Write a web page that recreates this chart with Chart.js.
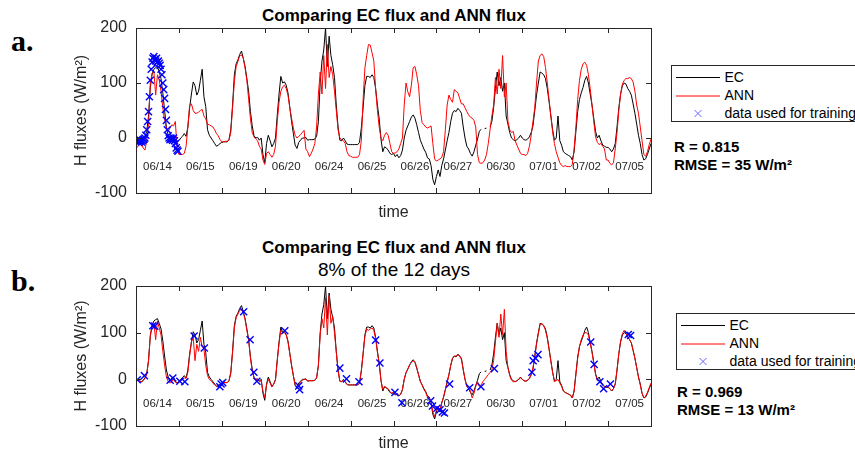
<!DOCTYPE html>
<html>
<head>
<meta charset="utf-8">
<title>Comparing EC flux and ANN flux</title>
<script src="https://cdn.jsdelivr.net/npm/chart.js@4.4.1/dist/chart.umd.min.js"></script>
<style>
  html, body { margin: 0; padding: 0; background: #fff; }
  #figure { position: relative; width: 855px; height: 454px; overflow: hidden;
    font-family: 'Liberation Sans', Arial, Helvetica, sans-serif; color: #000; }
  canvas { position: absolute; left: 0; }
  .tag { position: absolute; left: 11px; font-family: 'Liberation Serif', 'Times New Roman', serif;
    font-weight: bold; font-size: 30px; line-height: 30px; }
  .title { position: absolute; left: 394px; transform: translateX(-50%); white-space: nowrap; line-height: 1; }
  .title.main { font-weight: bold; font-size: 17px; }
  .title.sub { font-size: 19px; }
  .stats { position: absolute; font-weight: bold; font-size: 15px; line-height: 18.5px; white-space: nowrap; }
  .legend { position: absolute; width: 230px; height: 57px; box-sizing: border-box;
    border: 1px solid #262626; background: #fff; }
  .legend svg { position: absolute; left: 0; top: 0; }
  .legend span { position: absolute; left: 52.5px; font-size: 14px; line-height: 14px; white-space: nowrap; }
</style>
</head>
<body>
<div id="figure">
  <div class="tag" style="top:26px">a.</div>
  <div class="title main" style="top:7px">Comparing EC flux and ANN flux</div>
  <canvas id="chartA" width="665" height="225" style="top:0"></canvas>
  <div class="legend" id="legendA" style="left:671px;top:65px"></div>
  <div class="stats" style="left:674px;top:137.5px">R = 0.815<br>RMSE = 35 W/m²</div>

  <div class="tag" style="top:266px">b.</div>
  <div class="title main" style="top:239px">Comparing EC flux and ANN flux</div>
  <div class="title sub" style="top:260px">8% of the 12 days</div>
  <canvas id="chartB" width="665" height="214" style="top:240px"></canvas>
  <div class="legend" id="legendB" style="left:676px;top:313px"></div>
  <div class="stats" style="left:677px;top:382.5px">R = 0.969<br>RMSE = 13 W/m²</div>
</div>

<script>
// x axis is hours since start of the first shown day, 24 per day, 12 days glued together
const dayLabels = ['06/14', '06/15', '06/19', '06/20', '06/24', '06/25', '06/26', '06/27', '06/30', '07/01', '07/02', '07/05'];
const hoursPerDay = 24;
const yTicks = [-100, 0, 100, 200];
const dayLabelFlux = -53; // level the date texts sit at inside the axes

// EC measured H flux (W/m2), hourly, one line per day (+ last point)
const ecFlux = [
  0, -2, -3, -5, -2, 3, 12, 40, 92, 116, 125, 128, 130, 120, 108, 82, 50, 20, 5, 0, -2, 5, -5, -8,
  -5, 0, 3, 8, 3, 20, 55, 80, 102, 95, 78, 85, 105, 125, 75, 57, 15, 5, 0, -5, -10, -15, -13, -10,
  -8, -7, -7, -7, -3, 15, 60, 115, 135, 142, 152, 158, 145, 130, 108, 84, 48, 22, 4, 0, 1, -4, 0, -30,
  -45, -10, 5, -5, -16, -10, 0, 42, 80, 112, 100, 102, 96, 82, 56, 30, 8, -13, -19, -8, -4, 0, 0, 1,
  -4, -3, -3, -3, -2, 3, 30, 100, 140, 160, 200, 130, 185, 150, 133, 110, 60, 20, -4, -5, 0, -5, -11, -12,
  -12, -12, -12, -12, -12, -8, 18, 55, 95, 112, 112, 110, 115, 110, 90, 60, 35, -2, -25, -16, -18, -22, -28, -30,
  -28, -34, -30, -36, -32, -22, 0, 14, 22, 30, 38, 42, 36, 24, 10, -4, -12, -20, -26, -36, -38, -50, -75, -85,
  -70, -58, -70, -50, -38, -22, -5, 10, 30, 45, 50, 48, 54, 50, 45, 20, 0, -15, -20, -28, -33, -25, -13, -2,
  12, 16, null, 17, 18, null, 20, 30, 55, 90, 120, 95, 110, 85, 100, 40, 25, 10, 0, -3, -5, -3, 0, 5,
  0, -3, -4, -2, 2, 10, 22, 50, 78, 100, 120, 118, 115, 108, 90, 66, 40, 15, -4, 0, 40, -5, -13, -25,
  -28, -30, -32, -34, -40, -25, 12, 48, 70, 82, 92, 105, 112, 100, 80, 60, 36, 12, 0, 5, -5, -13, -15, -17,
  -17, -20, -25, -20, -10, 20, 55, 80, 95, 100, 98, 90, 85, 78, 62, 45, 25, 5, -10, -30, -40, -38, -30, -20,
  -10,
];

// ANN estimate, panel a (trained on 06/14 only)
const annFluxA = [
  -20, -15, -13, -8, -18, -22, -5, 25, 100, 118, 121, 78, 115, 105, 85, 55, 32, 18, 12, 18, 24, 22, 30, -20,
  -30, -30, -30, -28, -15, 20, 60, 62, 50, 45, 45, 47, 50, 52, 40, 35, 25, 24, 22, 20, 15, 8, 4, -3,
  -7, -7, -6, -6, -4, 10, 55, 102, 130, 139, 150, 151, 145, 127, 105, 70, 35, 10, 2, -2, -5, -15, -20, -40,
  -48, -28, -25, -30, -35, -30, -15, 30, 65, 85, 93, 96, 90, 78, 55, 36, 18, 5, 0, 3, 6, 10, 14, -20,
  -25, -34, -28, -20, -10, 20, 80, 120, 80, 150, 90, 170, 110, 130, 115, 85, 50, 15, 0, -3, -5, -10, -25, -32,
  -33, -35, -35, -35, -35, -30, -5, 70, 127, 150, 170, 169, 155, 140, 90, 50, 20, 0, -5, 5, 10, 5, -10, -25,
  -28, -27, -25, -20, -10, 0, 60, 100, 84, 75, 96, 128, 130, 115, 95, 50, 28, 24, 20, 18, 20, 22, -10, -38,
  -42, -40, -38, -35, -25, 15, 60, 78, 70, 65, 88, 85, 82, 72, 62, 62, 55, 48, 42, 38, 36, 32, 20, -30,
  -45, -46, -45, -40, -30, -10, 15, 40, 60, 110, 80, 125, 90, 150, 75, 100, 30, 15, 10, 12, -5, -13, -20, -28,
  -30, -30, -32, -28, -15, 5, 30, 55, 100, 140, 150, 153, 148, 128, 100, 70, 40, 10, -10, -25, -35, -45, -50, -52,
  -50, -52, -52, -52, -48, -20, 20, 70, 105, 125, 135, 138, 132, 115, 90, 60, 30, 2, -8, -12, -10, -15, -20, -40,
  -40, -46, -49, -45, -20, 10, 50, 80, 98, 105, 108, 108, 110, 108, 102, 85, 60, 45, 20, -5, -30, -33, -25, -12,
  -2,
];

// ANN estimate, panel b (trained on 8% of the 12 days)
const annFluxB = [
  0, -3, -4, -6, -3, 2, 10, 40, 95, 115, 120, 85, 125, 110, 95, 60, 30, 5, -5, -8, -5, 0, -6, -8,
  -6, -3, 0, 3, 2, 15, 50, 80, 90, 40, 75, 60, 90, 70, 65, 30, 8, 0, -3, -8, -12, -15, -14, -10,
  -8, -7, -7, -7, -3, 12, 58, 110, 132, 140, 148, 150, 142, 128, 105, 84, 45, 18, 3, 0, 0, -5, -3, -25,
  -40, -12, 0, -8, -16, -10, -2, 40, 78, 105, 100, 100, 95, 80, 55, 30, 8, -12, -20, -12, -6, -2, 0, 0,
  -3, -3, -3, -3, -2, 3, 30, 95, 130, 110, 175, 95, 180, 120, 135, 100, 58, 18, -4, -5, -2, -6, -11, -12,
  -12, -12, -12, -12, -12, -8, 18, 55, 92, 108, 105, 108, 110, 105, 88, 58, 33, -2, -22, -15, -18, -20, -26, -30,
  -28, -33, -30, -35, -32, -22, 0, 15, 22, 32, 36, 40, 38, 25, 10, -5, -12, -22, -28, -38, -40, -48, -70, -80,
  -65, -60, -65, -50, -38, -22, -8, 10, 30, 45, 50, 50, 52, 50, 42, 22, 0, -15, -20, -25, -40, -30, -15, -5,
  -15, -12, -5, 0, 5, 10, 15, 20, 40, 80, 120, 90, 140, 95, 150, 60, 25, 8, -2, -5, -5, -3, 0, 3,
  0, -3, -4, -2, 2, 10, 25, 48, 75, 98, 118, 120, 115, 105, 88, 64, 38, 15, -5, -3, 0, -8, -15, -25,
  -28, -30, -32, -34, -40, -25, 10, 45, 70, 85, 95, 100, 100, 95, 78, 58, 35, 10, -3, -2, -5, -12, -15, -16,
  -16, -20, -25, -20, -10, 20, 55, 82, 98, 105, 98, 92, 85, 78, 62, 45, 25, 5, -12, -30, -40, -36, -28, -18,
  -8,
];

// training samples, panel a: every half hour of 06/14
const trainHoursA = [
  0, 0.5, 1, 1.5, 2, 2.5, 3, 3.5, 4, 4.5, 5, 5.5, 6, 6.5, 7, 7.5, 8, 8.5, 9, 9.5, 10, 10.5, 11, 11.5,
  12, 12.5, 13, 13.5, 14, 14.5, 15, 15.5, 16, 16.5, 17, 17.5, 18, 18.5, 19, 19.5, 20, 20.5, 21, 21.5, 22, 22.5, 23, 23.5,
];
const trainFluxA = [
  -5, -6, -5, -8, -6, -4, -7, -5, -3, -2, 0, 5, 15, 30, 48, 75, 105, 125, 138, 145, 148, 143, 140, 145,
  138, 140, 136, 132, 125, 115, 100, 88, 72, 52, 32, 15, 4, 0, -3, 0, -2, -4, 0, -5, -10, -18, -22, -24,
];

// training samples, panel b: scattered over all days
const trainHoursB = [
  0.7, 4.7, 9.4, 10.5, 19.1, 20.6,
  24.5, 27.3, 32.5, 38.2, 46.9, 47.6,
  48.5, 60.2, 63.8, 65.9, 67.6,
  83.2, 91, 91.5,
  114, 117.7,
  124.7, 134, 136.4,
  144.8, 148.7, 164.8, 165.8,
  168.3, 170, 171.3, 172.5, 175.4, 186.6,
  192.9, 200.4,
  221.4, 222.1, 223.4, 224.8,
  254.3, 256.2, 259.4, 261.5,
  265.3, 275.3, 276.6,
];
const trainFluxB = [
  -1, 8, 115, 114, -2, 3,
  -4, -5, 93, 67, -16, -10,
  -7, 145, 85, 15, -4,
  104, -14, -22,
  24, 1,
  -5, 84, 35,
  -28, -50, -46, -57,
  -62, -65, -70, -72, -10, -18,
  -16, 23,
  15, 40, 45, 53,
  80, 32, -5, -20,
  -10, 96, 94,
];

const axisColor = '#262626';
const trainColor = '#0000ff';
const fontFamily = "'Liberation Sans', Arial, Helvetica, sans-serif";

Chart.defaults.font.family = fontFamily;
Chart.defaults.color = axisColor;

function toPoints(values) {
  return values.map((v, i) => ({ x: i, y: v }));
}

function pairPoints(hours, values) {
  return hours.map((h, i) => ({ x: h, y: values[i] }));
}

// matlab-like box: inward ticks all round, date texts inside the axes
const framePlugin = {
  id: 'frame',
  beforeDatasetsDraw(chart) {
    const { ctx, scales: { x, y } } = chart;
    ctx.save();
    ctx.font = `11.5px ${fontFamily}`;
    ctx.fillStyle = axisColor;
    ctx.textAlign = 'center';
    ctx.textBaseline = 'middle';
    dayLabels.forEach((label, i) => {
      ctx.fillText(label, x.getPixelForValue(i * hoursPerDay + hoursPerDay / 2), y.getPixelForValue(dayLabelFlux));
    });
    ctx.restore();
  },
  afterDraw(chart) {
    const { ctx, chartArea: a, scales: { x, y } } = chart;
    const tick = 5;
    ctx.save();
    ctx.strokeStyle = axisColor;
    ctx.lineWidth = 1;
    ctx.beginPath();
    for (let d = 1; d < dayLabels.length; d++) {
      const px = Math.round(x.getPixelForValue(d * hoursPerDay)) + 0.5;
      ctx.moveTo(px, a.top); ctx.lineTo(px, a.top + tick);
      ctx.moveTo(px, a.bottom); ctx.lineTo(px, a.bottom - tick);
    }
    yTicks.forEach((v) => {
      const py = Math.round(y.getPixelForValue(v)) + 0.5;
      ctx.moveTo(a.left, py); ctx.lineTo(a.left + tick, py);
      ctx.moveTo(a.right, py); ctx.lineTo(a.right - tick, py);
    });
    ctx.stroke();
    ctx.strokeRect(Math.round(a.left) + 0.5, Math.round(a.top) + 0.5,
      Math.round(a.right - a.left), Math.round(a.bottom - a.top));
    ctx.restore();
  },
};

function makeChart(canvasId, annValues, trainHours, trainValues, topPad, xAxisHeight, timePad) {
  return new Chart(document.getElementById(canvasId), {
    type: 'line',
    data: {
      datasets: [
        {
          label: 'data used for training',
          data: pairPoints(trainHours, trainValues),
          showLine: false,
          pointStyle: 'crossRot',
          pointRadius: 5,
          pointBorderWidth: 1.4,
          pointBorderColor: trainColor,
          pointBackgroundColor: trainColor,
          order: 0,
        },
        {
          label: 'ANN',
          data: toPoints(annValues),
          borderColor: '#ff0000',
          borderWidth: 1,
          pointRadius: 0,
          order: 1,
        },
        {
          label: 'EC',
          data: toPoints(ecFlux),
          borderColor: '#000000',
          borderWidth: 1,
          pointRadius: 0,
          spanGaps: false,
          order: 2,
        },
      ],
    },
    options: {
      responsive: false,
      animation: false,
      devicePixelRatio: 1,
      layout: { padding: { top: topPad, right: 14, left: 0, bottom: 0 } },
      plugins: {
        legend: { display: false },
        tooltip: { enabled: false },
      },
      scales: {
        x: {
          type: 'linear',
          min: 0,
          max: dayLabels.length * hoursPerDay,
          grid: { display: false, drawTicks: false },
          border: { display: false },
          ticks: { display: false },
          title: {
            display: true,
            text: 'time',
            color: axisColor,
            font: { size: 16 },
            padding: { top: 0, bottom: timePad },
          },
          afterFit: (scale) => { scale.height = xAxisHeight; },
        },
        y: {
          min: yTicks[0],
          max: yTicks[yTicks.length - 1],
          grid: { display: false, drawTicks: false },
          border: { display: false },
          ticks: { stepSize: 100, color: axisColor, font: { size: 16 }, padding: 9 },
          title: {
            display: true,
            text: 'H fluxes (W/m²)',
            color: axisColor,
            font: { size: 16 },
            padding: { top: 72.4, bottom: 0 },
          },
          afterFit: (scale) => { scale.width = 136; },
        },
      },
    },
    plugins: [framePlugin],
  });
}

function buildLegend(id) {
  const box = document.getElementById(id);
  box.innerHTML = `
    <svg width="60" height="56">
      <line x1="4" y1="11.5" x2="48" y2="11.5" stroke="#000" stroke-width="1"/>
      <line x1="4" y1="30" x2="48" y2="30" stroke="#ff0000" stroke-width="1"/>
      <path d="M22.5 44 L29.5 51 M29.5 44 L22.5 51" stroke="${trainColor}" stroke-width="1" opacity="0.6"/>
    </svg>
    <span style="top:4.2px">EC</span>
    <span style="top:22.2px">ANN</span>
    <span style="top:39.8px">data used for training</span>`;
}

buildLegend('legendA');
buildLegend('legendB');
makeChart('chartA', annFluxA, trainHoursA, trainFluxA, 28, 32, 3);
makeChart('chartB', annFluxB, trainHoursB, trainFluxB, 46, 28, 1);
</script>
</body>
</html>
